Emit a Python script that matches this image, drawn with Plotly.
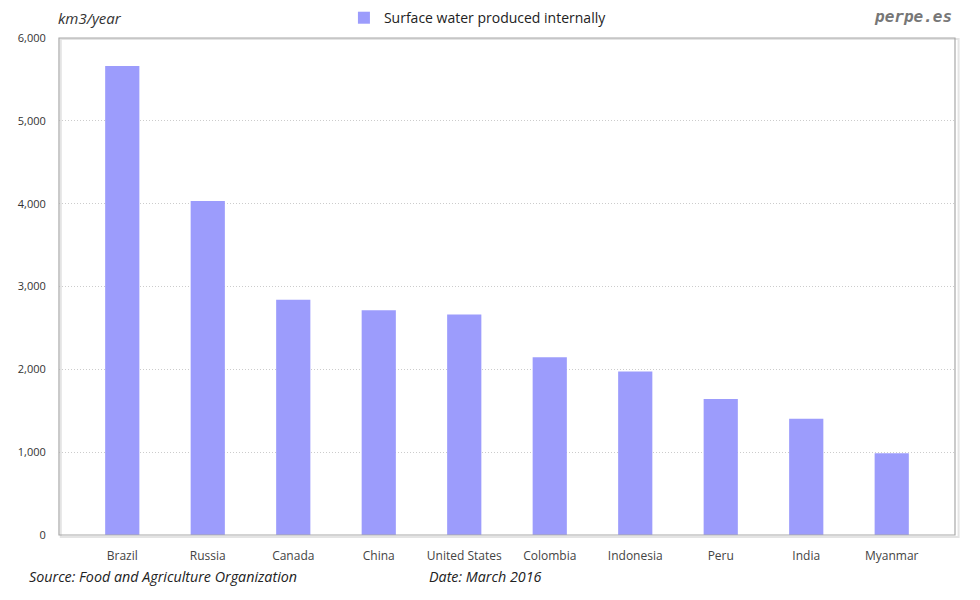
import plotly.graph_objects as go

countries = ["Brazil", "Russia", "Canada", "China", "United States",
             "Colombia", "Indonesia", "Peru", "India", "Myanmar"]
surface_water = [5661, 4032, 2840, 2712, 2662, 2145, 1973, 1641, 1404, 987]
y_ticks = [0, 1000, 2000, 3000, 4000, 5000, 6000]
y_tick_labels = ["0", "1,000", "2,000", "3,000", "4,000", "5,000", "6,000"]

bar_color = "#9c9cfc"

fig = go.Figure()
fig.add_trace(go.Bar(
    x=countries, y=surface_water, name="Surface water produced internally",
    marker=dict(color=bar_color, line=dict(width=0)),
    hovertemplate="%{x}: %{y:,}<extra></extra>",
))

fig.update_layout(
    width=980, height=600,
    margin=dict(l=51, r=33, t=30, b=73, autoexpand=False),
    paper_bgcolor="white", plot_bgcolor="white",
    bargap=0.6,
    font=dict(family="Open Sans", size=11, color="#333333"),
    showlegend=True,
    legend=dict(orientation="h", x=0.318, xanchor="left", y=1.04, yanchor="middle",
                font=dict(size=14, color="#222222"), itemwidth=30,
                bgcolor="rgba(0,0,0,0)"),
    xaxis=dict(
        range=[-0.74, 9.74], showgrid=False, zeroline=False,
        showline=False, ticks="outside", ticklen=10, tickcolor="rgba(0,0,0,0)",
        tickfont=dict(size=12, color="#444444"), fixedrange=True,
    ),
    yaxis=dict(
        range=[0, 6000], tickvals=y_ticks, ticktext=y_tick_labels,
        showgrid=True, gridcolor="#cccccc", griddash="1px,2px", gridwidth=1,
        zeroline=False, showline=False, ticks="outside", ticklen=10,
        tickcolor="rgba(0,0,0,0)", tickfont=dict(size=11, color="#333333"),
        fixedrange=True,
    ),
    shapes=[
        dict(type="rect", xref="paper", yref="paper", x0=0.002, y0=-0.004, x1=1.004, y1=0.998,
             line=dict(color="#e4e4e4", width=2), layer="below"),
        dict(type="rect", xref="paper", yref="paper", x0=0, y0=0, x1=1, y1=1,
             line=dict(color="#a8a8a8", width=1.2), layer="above"),
    ],
    annotations=[
        dict(text="<i>km3/year</i>", xref="paper", yref="paper", x=-0.003, y=1.0,
             xanchor="left", yanchor="middle", yshift=20, showarrow=False,
             font=dict(family="Open Sans", size=15, color="#333333")),
        dict(text="<b><i>perpe.es</i></b>", xref="paper", yref="paper", x=0.999, y=1.0,
             xanchor="right", yanchor="middle", yshift=22, showarrow=False,
             font=dict(family="DejaVu Sans Mono", size=16, color="#777777")),
        dict(text="<i>Source: Food and Agriculture Organization</i>", xref="paper", yref="paper",
             x=-0.036, y=0, xanchor="left", yanchor="middle", yshift=-41, showarrow=False,
             font=dict(family="Open Sans", size=14.3, color="#222222")),
        dict(text="<i>Date: March 2016</i>", xref="paper", yref="paper",
             x=0.4108, y=0, xanchor="left", yanchor="middle", yshift=-41, showarrow=False,
             font=dict(family="Open Sans", size=14.3, color="#222222")),
    ],
)

fig.write_html("out.html", config={"displayModeBar": False})
